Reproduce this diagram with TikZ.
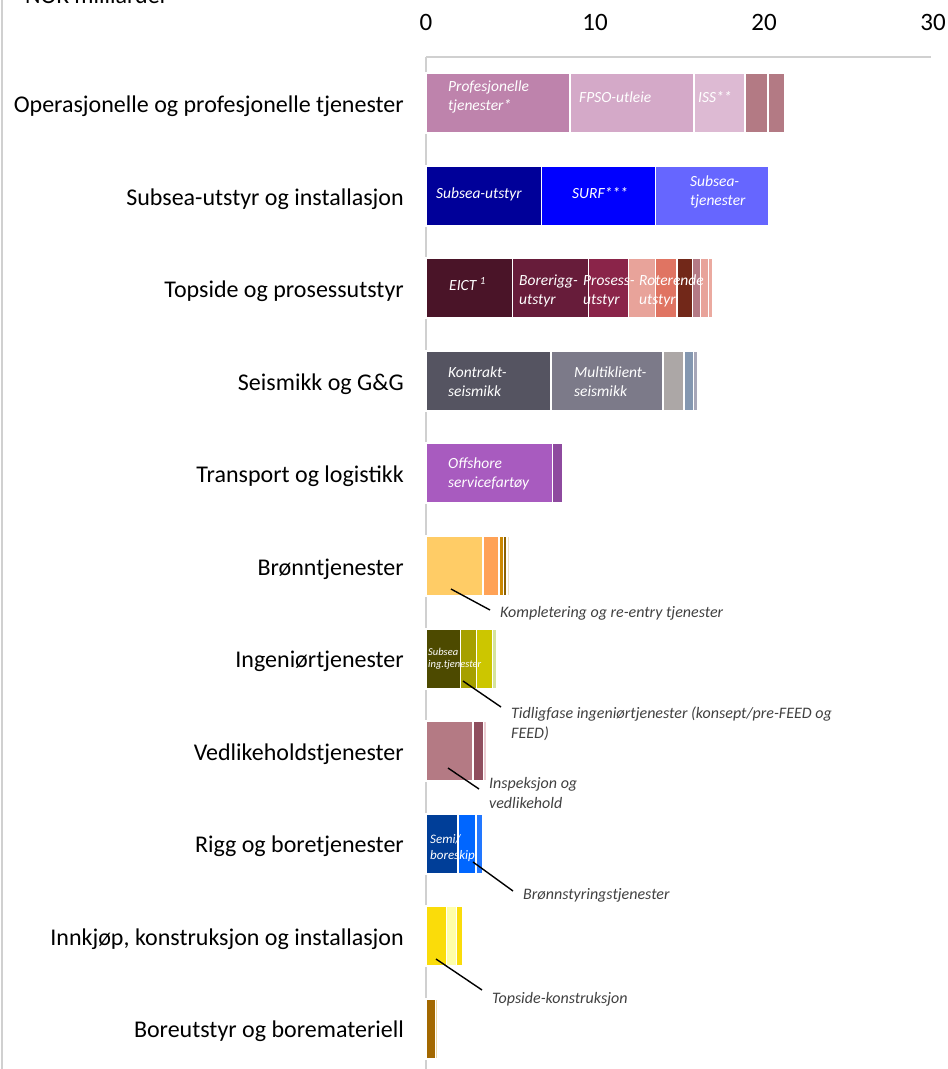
\documentclass[tikz,border=0pt]{standalone}
\usepackage{fontspec}
\setmainfont{Carlito}

% bar colours, one row after another
\definecolor{opA}{HTML}{BE83AC}
\definecolor{opB}{HTML}{D4A9C8}
\definecolor{opC}{HTML}{DDBAD3}
\definecolor{opD}{HTML}{B37A84}
\definecolor{suA}{HTML}{000099}
\definecolor{suB}{HTML}{0000FF}
\definecolor{suC}{HTML}{6666FF}
\definecolor{toA}{HTML}{4A1428}
\definecolor{toB}{HTML}{671C3A}
\definecolor{toC}{HTML}{8A2449}
\definecolor{toD}{HTML}{E8A39A}
\definecolor{toE}{HTML}{E07462}
\definecolor{toF}{HTML}{722819}
\definecolor{toG}{HTML}{B47A85}
\definecolor{toH}{HTML}{EBAAA0}
\definecolor{seA}{HTML}{555461}
\definecolor{seB}{HTML}{7C7A89}
\definecolor{seC}{HTML}{ACA7A6}
\definecolor{seD}{HTML}{8497B0}
\definecolor{seE}{HTML}{A7A7B8}
\definecolor{trA}{HTML}{A85BBF}
\definecolor{trB}{HTML}{8E4A9F}
\definecolor{brA}{HTML}{FFCC66}
\definecolor{brB}{HTML}{FFA257}
\definecolor{brC}{HTML}{CC8800}
\definecolor{brD}{HTML}{8C6000}
\definecolor{brE}{HTML}{F0E0C0}
\definecolor{inA}{HTML}{4D4A00}
\definecolor{inB}{HTML}{A6A000}
\definecolor{inC}{HTML}{CCC600}
\definecolor{inD}{HTML}{D6E39C}
\definecolor{veA}{HTML}{B47A84}
\definecolor{veB}{HTML}{8F4E5E}
\definecolor{veC}{HTML}{EBCDD2}
\definecolor{riA}{HTML}{003E98}
\definecolor{riB}{HTML}{0066FF}
\definecolor{riC}{HTML}{2277FF}
\definecolor{ikA}{HTML}{FADC0A}
\definecolor{ikB}{HTML}{FFFFAA}
\definecolor{boA}{HTML}{A36800}
\definecolor{boB}{HTML}{EBD9AA}
\definecolor{calltext}{HTML}{404040}
\definecolor{axisgray}{HTML}{D0D0D0}

\begin{document}
\begin{tikzpicture}[x=1pt,y=-1pt,
		seg/.style={draw=white, line width=1.4pt},
		cat/.style={anchor=base east, inner sep=0pt, font=\fontsize{24}{28}\selectfont},
		tick/.style={inner sep=0pt, font=\fontsize{25}{29}\selectfont},
		inlab/.style={anchor=base west, inner sep=0pt, text=white, font=\fontsize{15.5}{19}\selectfont\itshape},
		inlab2/.style={anchor=north west, inner sep=0pt, align=left, text=white, font=\fontsize{15.5}{19}\selectfont\itshape},
		callout/.style={anchor=north west, inner xsep=10pt, inner ysep=0pt, align=left, text=calltext, font=\fontsize{16}{20}\selectfont\itshape},
		leader/.style={line width=1.4pt}]
		\useasboundingbox (0,0) rectangle (948,1069);

		% frame and axes
		\draw[axisgray, line width=2pt] (2,0) -- (2,1069);
		\draw[axisgray, line width=1.2pt] (426,57) -- (931,57);
		\draw[axisgray, line width=1.2pt] (426,57) -- (426,1069);
		\node[anchor=base west, inner sep=0pt, font=\fontsize{24}{28}\selectfont] (unit) at (25,3) {NOK milliarder};
		\foreach \v in {0,10,20,30}
			\node[tick] (tick\v) at ({426+16.9*\v},22) {\v};

		% bars
		\foreach \a/\b/\c in {426/570/opA, 570/694/opB, 694/745/opC, 745/768/opD, 768/785/opD}
			\draw[seg, fill=\c] (\a,73) rectangle (\b,133);
		\foreach \a/\b/\c in {426/541.5/suA, 541.5/655.5/suB, 655.5/768.5/suC}
			\draw[seg, fill=\c] (\a,166) rectangle (\b,226);
		\foreach \a/\b/\c in {426/512.5/toA, 512.5/588.5/toB, 588.5/628.5/toC, 628.5/655.5/toD, 655.5/677/toE, 677/692.5/toF, 692.5/700.5/toG, 700.5/708.5/toD, 708.5/712.5/toH}
			\draw[seg, fill=\c] (\a,258) rectangle (\b,318);
		\foreach \a/\b/\c in {426/551/seA, 551/663/seB, 663/684/seC, 684/693.5/seD, 693.5/697.5/seE}
			\draw[seg, fill=\c] (\a,351) rectangle (\b,411);
		\foreach \a/\b/\c in {426/552.5/trA, 552.5/562.5/trB}
			\draw[seg, fill=\c] (\a,443) rectangle (\b,503);
		\foreach \a/\b/\c in {426/483/brA, 483/499/brB, 499/503.5/brC, 503.5/507/brD, 507/509.5/brE}
			\draw[seg, fill=\c] (\a,536) rectangle (\b,596);
		\foreach \a/\b/\c in {426/460.5/inA, 460.5/476.5/inB, 476.5/492.5/inC, 492.5/496.5/inD}
			\draw[seg, fill=\c] (\a,629) rectangle (\b,689);
		\foreach \a/\b/\c in {426/473/veA, 473/483.5/veB, 483.5/486.5/veC}
			\draw[seg, fill=\c] (\a,721) rectangle (\b,781);
		\foreach \a/\b/\c in {426/458/riA, 458/476/riB, 476/482.5/riC}
			\draw[seg, fill=\c] (\a,814) rectangle (\b,874);
		\foreach \a/\b/\c in {426/446.5/ikA, 446.5/456.5/ikB, 456.5/462.5/ikA}
			\draw[seg, fill=\c] (\a,906) rectangle (\b,966);
		\foreach \a/\b/\c in {426/435.5/boA, 435.5/437.5/boB}
			\draw[seg, fill=\c] (\a,999) rectangle (\b,1059);

		% category labels
		\node[cat] (opr) at (404,112) {Operasjonelle og profesjonelle tjenester};
		\node[cat] (sub) at (404,205) {Subsea-utstyr og installasjon};
		\node[cat] (top) at (404,297) {Topside og prosessutstyr};
		\node[cat] (sei) at (404,390) {Seismikk og G\&G};
		\node[cat] (tra) at (404,482) {Transport og logistikk};
		\node[cat] (bro) at (404,575) {Brønntjenester};
		\node[cat] (ing) at (404,667) {Ingeniørtjenester};
		\node[cat] (ved) at (404,760) {Vedlikeholdstjenester};
		\node[cat] (rig) at (404,852) {Rigg og boretjenester};
		\node[cat] (ikj) at (404,945) {Innkjøp, konstruksjon og installasjon};
		\node[cat] (bor) at (404,1037) {Boreutstyr og boremateriell};

		% labels inside the bars
		\node[inlab2] (prof) at (448,81) {Profesjonelle\\tjenester*};
		\node[inlab] (fpso) at (579,102) {FPSO-utleie};
		\node[inlab] (iss) at (698,102) {ISS**};
		\node[inlab] (subut) at (436,198) {Subsea-utstyr};
		\node[inlab] (surf) at (572,198) {SURF***};
		\node[inlab2] (subtj) at (690,176) {Subsea-\\tjenester};
		\node[inlab] (eict) at (449,290) {EICT \textsuperscript{1}};
		\node[inlab2] (borer) at (519,275) {Borerigg-\\utstyr};
		\node[inlab2] (prosess) at (583,275) {Prosess-\\utstyr};
		\node[inlab2] (roter) at (639,275) {Roterende\\utstyr};
		\node[inlab2] (kontr) at (448,367) {Kontrakt-\\seismikk};
		\node[inlab2] (multi) at (574,367) {Multiklient-\\seismikk};
		\node[inlab2] (offsh) at (448,458) {Offshore\\servicefartøy};
		\node[inlab2, font=\fontsize{10.5}{12}\selectfont\itshape] (subing) at (428,647.5) {Subsea\\ing.tjenester};
		\node[inlab2, font=\fontsize{13}{16}\selectfont\itshape] (semi) at (430,834.5) {Semi/\\boreskip};

		% callouts
		\node[callout] (kompl) at (490,606) {Kompletering og re-entry tjenester};
		\node[callout] (tidlig) at (501,707) {Tidligfase ingeniørtjenester (konsept/pre-FEED og\\FEED)};
		\node[callout] (insp) at (479,777) {Inspeksjon og\\vedlikehold};
		\node[callout] (bronn) at (513,888) {Brønnstyringstjenester};
		\node[callout] (topk) at (482,992) {Topside-konstruksjon};
		\coordinate (komplA) at (451,589);
		\coordinate (tidligA) at (463,681);
		\coordinate (inspA) at (448,768);
		\coordinate (bronnA) at (473,862);
		\coordinate (topkA) at (436,959);
		\draw[leader] (komplA) -- ([yshift=-4pt]kompl.north west);
		\draw[leader] (tidligA) -- (tidlig.north west);
		\draw[leader] (inspA) -- ([yshift=-12pt]insp.north west);
		\draw[leader] (bronnA) -- ([yshift=-3pt]bronn.north west);
		\draw[leader] (topkA) -- ([yshift=2pt]topk.north west);
	\end{tikzpicture}
\end{document}
